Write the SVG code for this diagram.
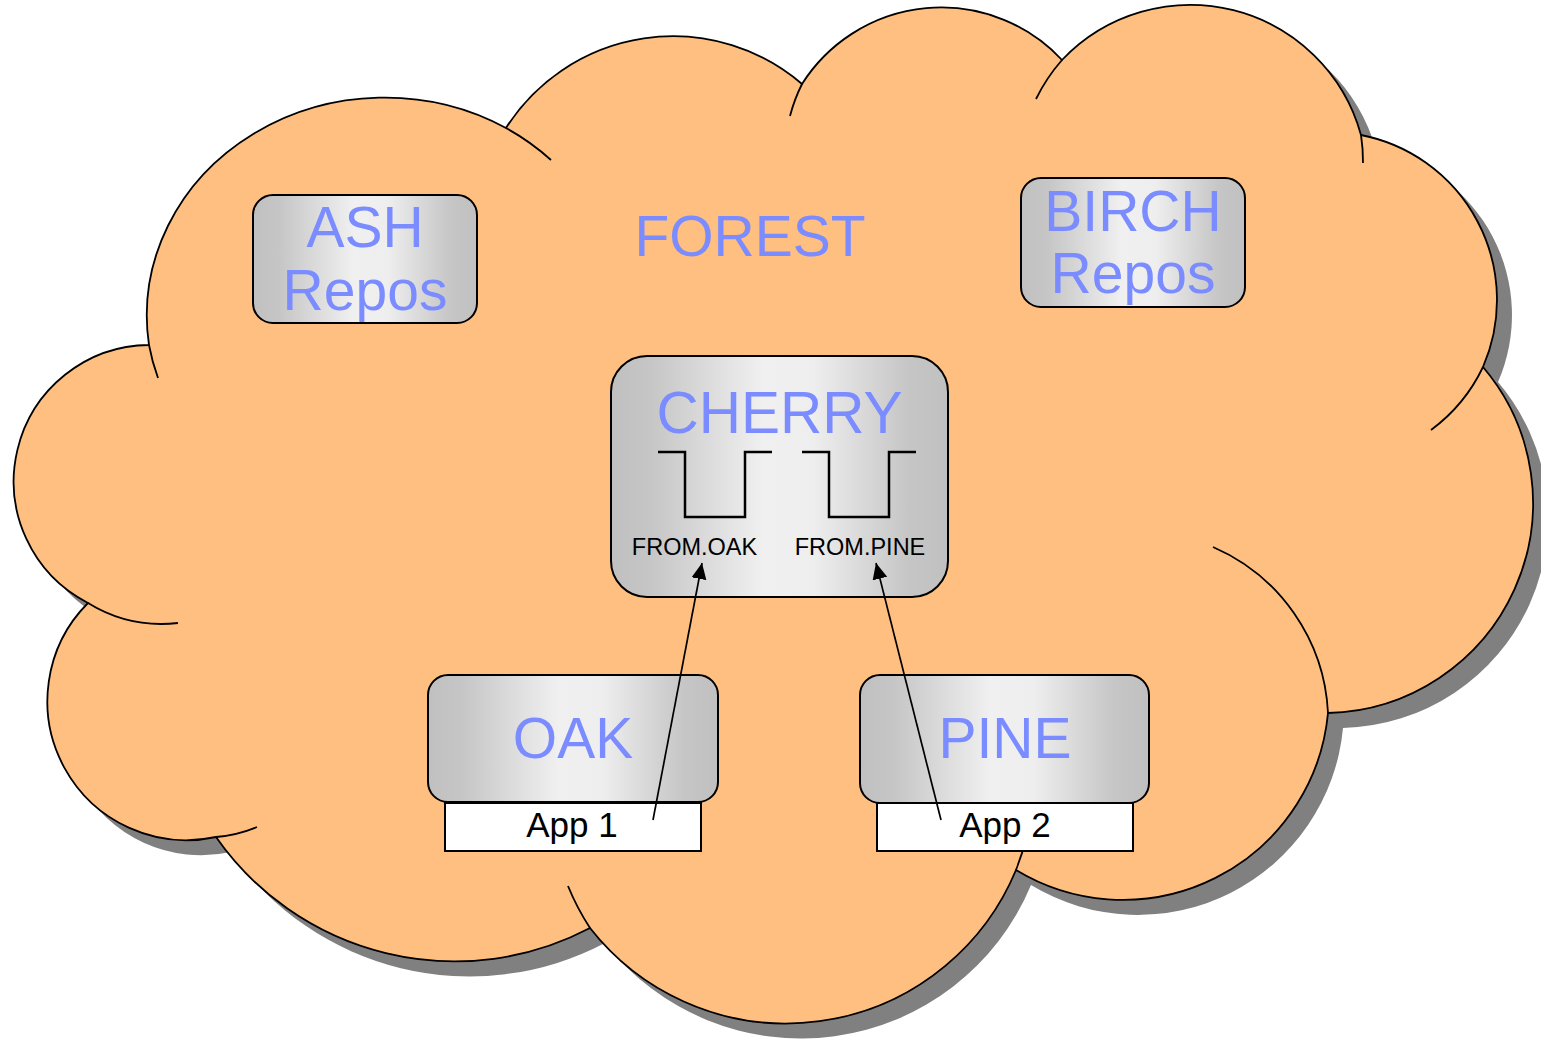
<svg xmlns="http://www.w3.org/2000/svg" width="1541" height="1039" viewBox="0 0 1541 1039">
  <defs>
    <linearGradient id="silver" x1="0" y1="0" x2="1" y2="0">
      <stop offset="0" stop-color="#c0c0c0"/>
      <stop offset="0.12" stop-color="#c6c6c6"/>
      <stop offset="0.45" stop-color="#f0f0f0"/>
      <stop offset="0.6" stop-color="#eeeeee"/>
      <stop offset="0.88" stop-color="#c6c6c6"/>
      <stop offset="1" stop-color="#c0c0c0"/>
    </linearGradient>
    <path id="cloudOutline" d="M149 345 A238 218 0 0 1 506 128 A198 198 0 0 1 802 84 A165 165 0 0 1 1062 60 A177 177 0 0 1 1361 135 A168 168 0 0 1 1483 367 A210 210 0 0 1 1328 713 A206 206 0 0 1 1016 870 A249 249 0 0 1 590 928 A291 291 0 0 1 216 837 A139 139 0 0 1 88 603 A136.5 136.5 0 0 1 149 345 Z"/>
    <marker id="arrow" markerUnits="userSpaceOnUse" markerWidth="18" markerHeight="16" refX="16" refY="7.5" orient="auto">
      <path d="M0 0 L16 7.5 L0 15 Z" fill="#000"/>
    </marker>
  </defs>
  <style>
    .label { font-family: "Liberation Sans", Arial, sans-serif; fill: #7a8cff; text-anchor: middle; }
    .small { font-family: "Liberation Sans", Arial, sans-serif; fill: #000; text-anchor: middle; }
    .box { fill: url(#silver); stroke: #000; stroke-width: 2; }
    .app { fill: #fff; stroke: #000; stroke-width: 2; }
    .seam { fill: none; stroke: #000; stroke-width: 1.8; }
    .queue { fill: none; stroke: #000; stroke-width: 2.5; }
    .link { fill: none; stroke: #000; stroke-width: 1.7; marker-end: url(#arrow); }
  </style>

  <!-- FOREST cloud with drop shadow -->
  <g id="forest">
    <use href="#cloudOutline" transform="translate(15 15)" fill="#808080"/>
    <use href="#cloudOutline" fill="#ffbf80" stroke="#000" stroke-width="1.8"/>
    <path class="seam" d="M506 128 A238 218 0 0 1 551 160"/>
    <path class="seam" d="M158 378 A238 218 0 0 1 149 345"/>
    <path class="seam" d="M790 116 A165 165 0 0 1 802 84"/>
    <path class="seam" d="M1036 99 A177 177 0 0 1 1062 60"/>
    <path class="seam" d="M1361 135 A177 177 0 0 1 1363 163"/>
    <path class="seam" d="M1483 367 A168 168 0 0 1 1431 430"/>
    <path class="seam" d="M1213 547 A191 191 0 0 1 1328 713"/>
    <path class="seam" d="M1027 835 A249 249 0 0 1 1016 870"/>
    <path class="seam" d="M590 928 A249 249 0 0 1 568 886"/>
    <path class="seam" d="M257 827 A139 139 0 0 1 216 837"/>
    <path class="seam" d="M178 623 A141 141 0 0 1 88 603"/>
    <text class="label" x="750" y="256" font-size="57">FOREST</text>
  </g>

  <g id="ash">
    <rect class="box" x="253" y="195" width="224" height="128" rx="20"/>
    <text class="label" x="365" y="247" font-size="57">ASH</text>
    <text class="label" x="365" y="310" font-size="57">Repos</text>
  </g>

  <g id="birch">
    <rect class="box" x="1021" y="178" width="224" height="129" rx="20"/>
    <text class="label" x="1133" y="231" font-size="57">BIRCH</text>
    <text class="label" x="1133" y="293" font-size="57">Repos</text>
  </g>

  <g id="cherry">
    <rect class="box" x="611" y="356" width="337" height="241" rx="36"/>
    <text class="label" x="779.5" y="433" font-size="58.5">CHERRY</text>
    <path class="queue" d="M658 452 H685 V517 H745 V452 H772"/>
    <path class="queue" d="M802 452 H829 V517 H889 V452 H916"/>
    <text class="small" x="694.5" y="555" font-size="23.5">FROM.OAK</text>
    <text class="small" x="860" y="555" font-size="23.5">FROM.PINE</text>
  </g>

  <g id="oak">
    <rect class="box" x="428" y="675" width="290" height="127" rx="20"/>
    <text class="label" x="573" y="758" font-size="57">OAK</text>
    <rect class="app" x="445" y="803" width="256" height="48"/>
    <text class="small" x="572" y="837" font-size="35">App 1</text>
  </g>

  <g id="pine">
    <rect class="box" x="860" y="675" width="289" height="128" rx="20"/>
    <text class="label" x="1005" y="758" font-size="57">PINE</text>
    <rect class="app" x="877" y="803" width="256" height="48"/>
    <text class="small" x="1005" y="837" font-size="35">App 2</text>
  </g>

  <g id="connectors">
    <path class="link" d="M653 820 L702 563"/>
    <path class="link" d="M941 820 L876 563"/>
  </g>
</svg>
